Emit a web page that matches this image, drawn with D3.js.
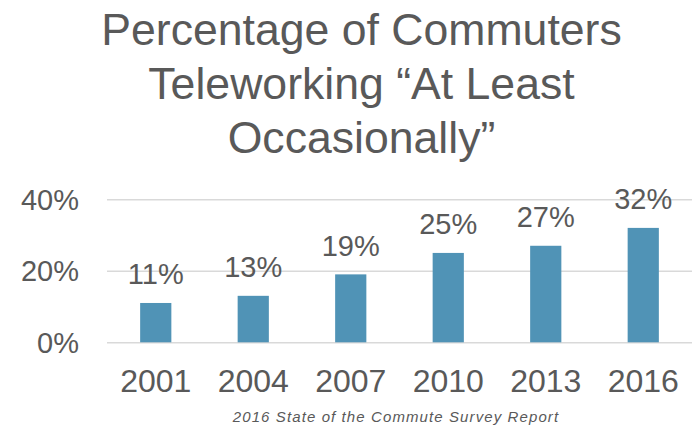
<!DOCTYPE html>
<meta charset="utf-8">
<style>
body { margin: 0; background: #fff; }
svg { display: block; font-family: "Liberation Sans", Arial, sans-serif; }
.grid line { stroke: #d9d9d9; stroke-width: 1.5px; }
.grid path { display: none; }
text { fill: #595959; }
</style>
<body>
<svg width="692" height="425"></svg>
<script src="https://cdn.jsdelivr.net/npm/d3@7"></script>
<script>
var years = ["2001", "2004", "2007", "2010", "2013", "2016"];
var values = [11, 13, 19, 25, 27, 32];
var yTicks = [0, 20, 40];
var titleLines = ["Percentage of Commuters", "Teleworking \u201cAt Least", "Occasionally\u201d"];
var source = "2016 State of the Commute Survey Report";

var svg = d3.select("svg"),
    width = +svg.attr("width"),
    height = +svg.attr("height");

var plotLeft = 107, plotRight = 692, plotTop = 199.3, plotBottom = 342.3;

var x = d3.scaleBand()
    .domain(years)
    .range([plotLeft, plotRight])
    .paddingInner(0.68)
    .paddingOuter(0.34);

var y = d3.scaleLinear()
    .domain([0, 40])
    .range([plotBottom, plotTop]);

// title
svg.append("g").selectAll("text")
    .data(titleLines)
  .enter().append("text")
    .attr("x", 361.5)
    .attr("y", function(d, i) { return 45 + i * 54; })
    .attr("text-anchor", "middle")
    .style("font-size", "44.6px")
    .text(function(d) { return d; });

// gridlines
svg.append("g")
    .attr("class", "grid")
    .attr("transform", "translate(" + plotLeft + ",0)")
    .call(d3.axisLeft(y).tickValues(yTicks).tickSize(-(plotRight - plotLeft)).tickFormat(""));

// y labels
svg.append("g").selectAll("text")
    .data(yTicks)
  .enter().append("text")
    .attr("x", 79)
    .attr("y", function(d) { return y(d) + 10.5; })
    .attr("text-anchor", "end")
    .style("font-size", "29px")
    .text(function(d) { return d + "%"; });

// bars
svg.append("g").selectAll("rect")
    .data(values)
  .enter().append("rect")
    .attr("x", function(d, i) { return x(years[i]); })
    .attr("width", x.bandwidth())
    .attr("y", function(d) { return y(d); })
    .attr("height", function(d) { return y(0) - y(d); })
    .attr("fill", "#5093b6");

// value labels
svg.append("g").selectAll("text")
    .data(values)
  .enter().append("text")
    .attr("x", function(d, i) { return x(years[i]) + x.bandwidth() / 2; })
    .attr("y", function(d) { return y(d) - 18.5; })
    .attr("text-anchor", "middle")
    .style("font-size", "29px")
    .text(function(d) { return d + "%"; });

// x labels
svg.append("g").selectAll("text")
    .data(years)
  .enter().append("text")
    .attr("x", function(d) { return x(d) + x.bandwidth() / 2; })
    .attr("y", 392.3)
    .attr("text-anchor", "middle")
    .style("font-size", "32px")
    .text(function(d) { return d; });

// source
svg.append("text")
    .attr("x", 396)
    .attr("y", 421.7)
    .attr("text-anchor", "middle")
    .style("font-size", "15px")
    .style("font-style", "italic")
    .style("letter-spacing", "1.1px")
    .text(source);
</script>
</body>
